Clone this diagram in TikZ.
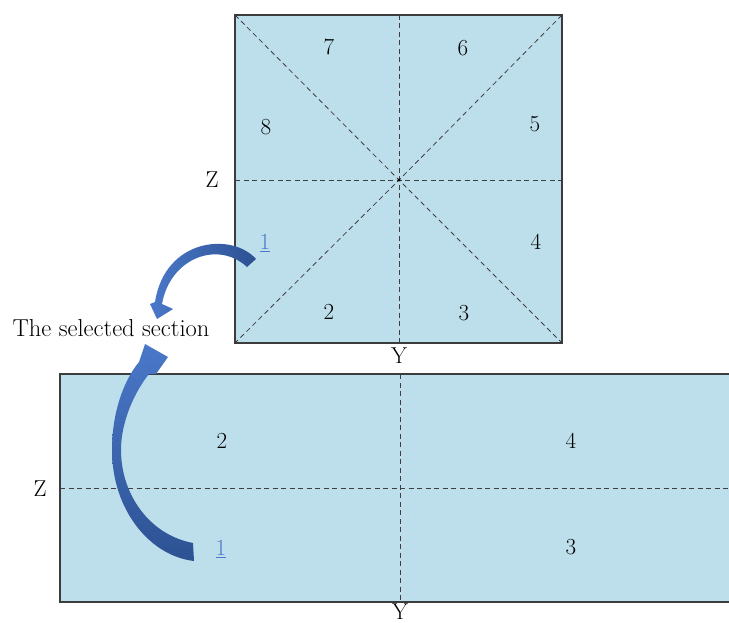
\documentclass[tikz,border=0pt]{standalone}
\usepackage{xcolor}
\definecolor{panel}{HTML}{BDDFEB}
\definecolor{edge}{HTML}{3C3C3C}
\definecolor{dashc}{HTML}{404040}
\definecolor{arlight}{HTML}{4A78C9}
\definecolor{ardark}{HTML}{2D5293}
\definecolor{onecol}{HTML}{4F77C8}
\begin{document}
\begin{tikzpicture}[x=1pt,y=-1pt,
  lbl/.style={font=\fontsize{23}{27}\selectfont, inner sep=0pt, text=black},
  onelbl/.style={lbl, text=onecol},
  border/.style={draw=edge, line width=1.3pt},
  dline/.style={draw=dashc, line width=0.8pt, dash pattern=on 5pt off 3.5pt}]
\useasboundingbox (0,0) rectangle (729,623);

% ---- top square ----
\coordinate (tl) at (235,15);
\coordinate (tr) at (562,15);
\coordinate (bl) at (235,343);
\coordinate (br) at (562,343);
\coordinate (c) at (399,180);
\fill[panel] (tl) rectangle (br);
\draw[dline] (399,15) -- (399,343);
\draw[dline] (235,180) -- (562,180);
\draw[dline] (tl) -- (c) -- (br);
\draw[dline] (tr) -- (c) -- (bl);
\fill[black] (c) circle (1.6pt);
\draw[border] (tl) rectangle (br);

\node[lbl] (t7) at (329,47) {7};
\node[lbl] (t6) at (463,48) {6};
\node[lbl] (t8) at (266,127) {8};
\node[lbl] (t5) at (535,124) {5};
\node[lbl] (t4) at (536,242) {4};
\node[lbl] (t2) at (329,312) {2};
\node[lbl] (t3) at (464,313) {3};
\node[onelbl] (t1) at (265,243) {\underline{1}};
\node[lbl] (tz) at (212,180) {Z};
\node[lbl] (ty) at (399,356) {Y};

% ---- bottom rectangle ----
\fill[panel] (60,374) rectangle (729,602);
\draw[dline] (400,374) -- (400,602);
\draw[dline] (60,488) -- (729,488);
\draw[border] (729,374) -- (60,374) -- (60,602) -- (729,602);

\node[lbl] (b2) at (222,441) {2};
\node[lbl] (b4) at (571,441) {4};
\node[lbl] (b3) at (571,547) {3};
\node[onelbl] (b1) at (221,549) {\underline{1}};
\node[lbl] (bz) at (40,489) {Z};
\node[lbl] (by) at (400,612) {Y};

% ---- caption ----
\node[lbl, font=\fontsize{24.5}{28}\selectfont] (sel) at (111,328) {The selected section};

% ---- curved arrow 1 (top) ----
\shade[left color=arlight, right color=ardark]
  (256,259) .. controls (232,232) and (165,238) .. (155,302)
  -- (150,304) -- (157,319) -- (173,309) -- (162,304)
  .. controls (170,258) and (218,240) .. (247,267) -- cycle;

% ---- curved arrow 2 (bottom) ----
\shade[top color=arlight, bottom color=ardark]
  (194,561) .. controls (150,556) and (112,510) .. (112,450)
  .. controls (112,412) and (124,380) .. (139,362)
  -- (145,344) -- (168,357) -- (156,374) -- (149,374)
  .. controls (136,390) and (121,420) .. (121,450)
  .. controls (121,495) and (150,535) .. (193,543) -- cycle;
\end{tikzpicture}
\end{document}
